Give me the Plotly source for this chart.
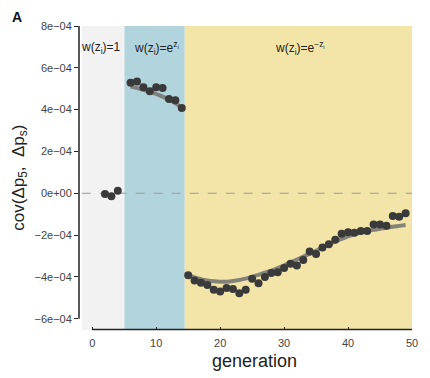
import plotly.graph_objects as go

# ---- data ----
gen_neutral = [2, 3, 4]
cov_neutral = [-0.03e-4, -0.14e-4, 0.12e-4]

gen_pos = [6, 7, 8, 9, 10, 11, 12, 13, 14]
cov_pos = [5.29e-4, 5.35e-4, 5.07e-4, 4.88e-4, 5.07e-4, 5.04e-4, 4.51e-4, 4.45e-4, 4.08e-4]
fit_pos = [5.10e-4, 5.03e-4, 4.95e-4, 4.85e-4, 4.75e-4, 4.62e-4, 4.47e-4, 4.30e-4, 4.10e-4]

gen_neg = list(range(15, 50))
cov_neg = [-3.92e-4, -4.17e-4, -4.28e-4, -4.39e-4, -4.62e-4, -4.70e-4, -4.53e-4, -4.58e-4,
           -4.78e-4, -4.61e-4, -4.09e-4, -4.30e-4, -4.00e-4, -3.81e-4, -3.78e-4, -3.58e-4,
           -3.37e-4, -3.45e-4, -3.19e-4, -2.78e-4, -2.90e-4, -2.59e-4, -2.44e-4, -2.22e-4,
           -1.94e-4, -1.86e-4, -1.89e-4, -1.80e-4, -1.81e-4, -1.50e-4, -1.50e-4, -1.55e-4,
           -1.09e-4, -1.12e-4, -0.96e-4]
fit_neg = [-3.92e-4, -4.03e-4, -4.11e-4, -4.17e-4, -4.21e-4, -4.23e-4, -4.23e-4, -4.20e-4,
           -4.15e-4, -4.08e-4, -4.00e-4, -3.90e-4, -3.80e-4, -3.70e-4, -3.58e-4, -3.45e-4,
           -3.30e-4, -3.17e-4, -3.03e-4, -2.89e-4, -2.75e-4, -2.60e-4, -2.45e-4, -2.30e-4,
           -2.18e-4, -2.06e-4, -1.96e-4, -1.88e-4, -1.81e-4, -1.75e-4, -1.70e-4, -1.65e-4,
           -1.60e-4, -1.56e-4, -1.52e-4]

region_bounds = [-1.65, 5.03, 14.47, 50]
region_colors = ["#f2f2f2", "#b2d5dd", "#f3e5a8"]
region_labels = ["w(z<sub>i</sub>)=1",
                 "w(z<sub>i</sub>)=e<sup>z<sub>i</sub></sup>",
                 "w(z<sub>i</sub>)=e<sup>−z<sub>i</sub></sup>"]
region_label_x = [1.4, 10.0, 32.5]

x_ticks = [0, 10, 20, 30, 40, 50]
y_ticks = [8e-4, 6e-4, 4e-4, 2e-4, 0, -2e-4, -4e-4, -6e-4]
y_ticktext = ["8e−04", "6e−04", "4e−04", "2e−04", "0e+00", "−2e−04", "−4e−04", "−6e−04"]

FONT = "Liberation Sans, Arial, sans-serif"
fig = go.Figure()

shapes = []
for i in range(3):
    shapes.append(dict(type="rect", xref="x", yref="paper",
                       x0=region_bounds[i], x1=region_bounds[i + 1], y0=0, y1=1,
                       fillcolor=region_colors[i], line=dict(width=0), layer="below"))
# zero dashed line
shapes.append(dict(type="line", xref="x", yref="y", x0=region_bounds[0], x1=50, y0=0, y1=0,
                   line=dict(color="#9a9a9a", width=1.2, dash="dash"), layer="below"))
# axis lines
shapes.append(dict(type="line", xref="paper", yref="y", x0=0, x1=0, y0=-6e-4, y1=8e-4,
                   line=dict(color="#222222", width=1.5)))
shapes.append(dict(type="line", xref="x", yref="paper", x0=0, x1=50, y0=0.002, y1=0.002,
                   line=dict(color="#222222", width=1.5)))

for gx, fy in [(gen_pos, fit_pos), (gen_neg, fit_neg)]:
    fig.add_trace(go.Scatter(x=gx, y=fy, mode="lines",
                             line=dict(color="rgba(120,120,115,0.9)", width=4, shape="spline"),
                             hoverinfo="skip", showlegend=False))

for gx, gy in [(gen_neutral, cov_neutral), (gen_pos, cov_pos), (gen_neg, cov_neg)]:
    fig.add_trace(go.Scatter(x=gx, y=gy, mode="markers",
                             marker=dict(color="#3a3a3a", size=8),
                             showlegend=False))

annotations = []
for lbl, lx in zip(region_labels, region_label_x):
    annotations.append(dict(text=lbl, x=lx, y=6.96e-4, xref="x", yref="y", showarrow=False,
                            xanchor="center", yanchor="middle",
                            font=dict(family=FONT, size=12, color="#222222")))
annotations.append(dict(text="<b>A</b>", xref="paper", yref="paper", x=-0.186, y=1.03,
                        xanchor="center", yanchor="middle", showarrow=False,
                        font=dict(family=FONT, size=14, color="#111111")))
annotations.append(dict(text="generation", x=25.3, xref="x", yref="paper", y=-0.103,
                        yanchor="middle", xanchor="center", showarrow=False,
                        font=dict(family=FONT, size=18, color="#222222")))
annotations.append(dict(text="cov(Δp<sub>5</sub>,  Δp<sub>s</sub>)", x=-0.178, xref="paper",
                        y=0.5, yref="paper", textangle=-90, showarrow=False,
                        xanchor="center", yanchor="middle",
                        font=dict(family=FONT, size=17, color="#222222")))

# the page adds an 8px body margin, so the figure is 8px smaller than the window
fig.update_layout(
    width=422, height=370,
    margin=dict(l=71, r=16, t=12, b=48),
    plot_bgcolor="white", paper_bgcolor="white",
    shapes=shapes, annotations=annotations,
    xaxis=dict(range=[-2.07, 50], tickvals=x_ticks, ticks="inside", ticklen=3,
               tickcolor="#222222", showline=False, showgrid=False, zeroline=False,
               tickfont=dict(family=FONT, size=11, color="#444444"), ticklabelstandoff=5),
    yaxis=dict(range=[-6.54e-4, 8e-4], tickvals=y_ticks, ticktext=y_ticktext,
               ticks="outside", ticklen=4, tickcolor="#222222", showline=False,
               showgrid=False, zeroline=False,
               tickfont=dict(family=FONT, size=11, color="#444444")),
    font=dict(family=FONT),
)

fig.write_html("out.html")
